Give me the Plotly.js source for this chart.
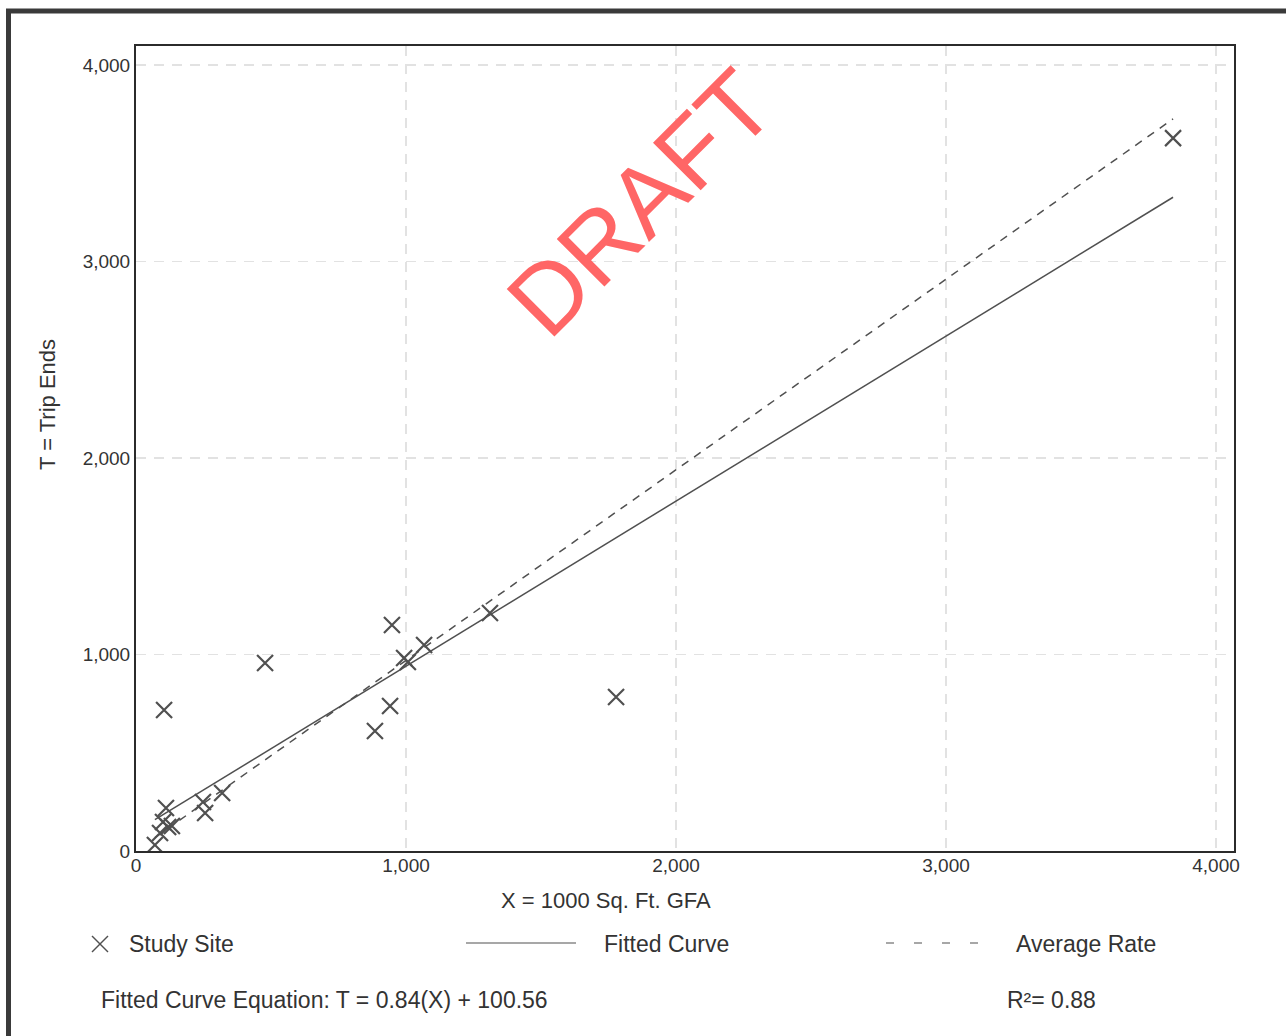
<!DOCTYPE html>
<html>
<head>
<meta charset="utf-8">
<script src="https://cdn.plot.ly/plotly-3.0.1.min.js"></script>
<style>html,body{margin:0;padding:0;background:#fff;}#chart{width:1286px;height:1036px;}</style>
</head>
<body>
<div id="chart"></div>
<script>
// ---- data ----
const siteX = [3841, 1778, 1311, 1067, 948, 478, 104, 941, 885, 993, 1007, 111, 100, 119, 133, 89, 248, 256, 319, 70];
const siteT = [3628, 784, 1211, 1048, 1150, 957, 718, 738, 611, 982, 962, 219, 148, 122, 127, 92, 249, 193, 295, 31];
const fitSlope = 0.84;
const fitIntercept = 100.56;
const avgRate = 0.97;
const rSquared = 0.88;
const xTickVals = [0, 1000, 2000, 3000, 4000];
const yTickVals = [0, 1000, 2000, 3000, 4000];
const legendLabels = ['Study Site', 'Fitted Curve', 'Average Rate'];
const xTitle = 'X = 1000 Sq. Ft. GFA';
const yTitle = 'T = Trip Ends';
const watermark = 'DRAFT';

// ---- derived lines ----
const xMin = Math.min(...siteX), xMax = Math.max(...siteX);
const lineX = [xMin, xMax];
const fitT = lineX.map(v => fitSlope * v + fitIntercept);
const avgT = lineX.map(v => avgRate * v);

// ---- layout geometry (pixels) ----
const W = 1286, H = 1036;
const L = 136, R = 1234, T = 46, B = 851;
const px = v => (v - L) / (R - L);
const py = v => (B - v) / (B - T);
const FONT = '"Liberation Sans", Arial, sans-serif';
const ink = '#505050';
const txt = '#333333';

const traces = [
  {x: siteX, y: siteT, type: 'scatter', mode: 'markers', name: legendLabels[0],
   marker: {symbol: 'x-thin', size: 16, color: ink, line: {color: ink, width: 2.2}}},
  {x: lineX, y: fitT, type: 'scatter', mode: 'lines', name: legendLabels[1],
   line: {color: ink, width: 1.5}},
  {x: lineX, y: avgT, type: 'scatter', mode: 'lines', name: legendLabels[2],
   line: {color: ink, width: 1.5, dash: '8px,7px'}}
];

const axisCommon = {
  showline: true, mirror: true, linecolor: '#2b2b2b', linewidth: 2,
  showgrid: true, gridcolor: '#e2e2e2', gridwidth: 1.5, griddash: '10px,8px',
  zeroline: false, ticks: '', tickformat: ',d', tickmode: 'array',
  tickfont: {family: FONT, size: 19, color: txt}
};

const shapes = [
  // outer frame (top & left visible)
  {type: 'line', xref: 'paper', yref: 'paper', x0: px(6), x1: px(1300), y0: py(11), y1: py(11),
   line: {color: '#3a3a3a', width: 5}},
  {type: 'line', xref: 'paper', yref: 'paper', x0: px(8.5), x1: px(8.5), y0: py(9), y1: py(1050),
   line: {color: '#3a3a3a', width: 5}},
  // legend: X marker
  {type: 'line', xref: 'paper', yref: 'paper', x0: px(92), x1: px(108), y0: py(936), y1: py(952),
   line: {color: ink, width: 1.5}},
  {type: 'line', xref: 'paper', yref: 'paper', x0: px(92), x1: px(108), y0: py(952), y1: py(936),
   line: {color: ink, width: 1.5}},
  // legend: solid line
  {type: 'line', xref: 'paper', yref: 'paper', x0: px(466), x1: px(576), y0: py(943), y1: py(943),
   line: {color: ink, width: 1.2}},
  // legend: dashed line
  {type: 'line', xref: 'paper', yref: 'paper', x0: px(886), x1: px(980), y0: py(943), y1: py(943),
   line: {color: ink, width: 1.2, dash: '8px,20px'}}
];

const ann = (text, x, y, opts) => Object.assign({
  text: text, xref: 'paper', yref: 'paper', x: px(x), y: py(y), showarrow: false,
  xanchor: 'left', yanchor: 'middle', font: {family: FONT, size: 23, color: txt}
}, opts || {});

const annotations = [
  ann(xTitle, 606, 900, {xanchor: 'center', font: {family: FONT, size: 22, color: txt}}),
  ann(yTitle, 47, 405, {xanchor: 'center', textangle: -90, font: {family: FONT, size: 22, color: txt}}),
  ann(legendLabels[0], 127, 944),
  ann(legendLabels[1], 602, 944),
  ann(legendLabels[2], 1014, 944),
  ann('Fitted Curve Equation: T = ' + fitSlope.toFixed(2) + '(X) + ' + fitIntercept.toFixed(2), 99, 1000),
  ann('R²= ' + rSquared.toFixed(2), 1005, 1000),
  ann(watermark, 640, 203, {xanchor: 'center', textangle: -45,
      font: {family: FONT, size: 98, color: '#ff6666'}})
];

const layout = {
  width: W, height: H,
  margin: {l: L, r: W - R, t: T, b: H - B, pad: 0},
  paper_bgcolor: '#ffffff', plot_bgcolor: '#ffffff',
  showlegend: false,
  xaxis: Object.assign({}, axisCommon, {range: [0, (R - L) / 0.27], tickvals: xTickVals, ticklabelstandoff: -4}),
  yaxis: Object.assign({}, axisCommon, {range: [0, (B - T) / 0.1965], tickvals: yTickVals}),
  shapes: shapes,
  annotations: annotations,
  font: {family: FONT, color: txt}
};

Plotly.newPlot('chart', traces, layout, {displayModeBar: false, staticPlot: true});
</script>
</body>
</html>
